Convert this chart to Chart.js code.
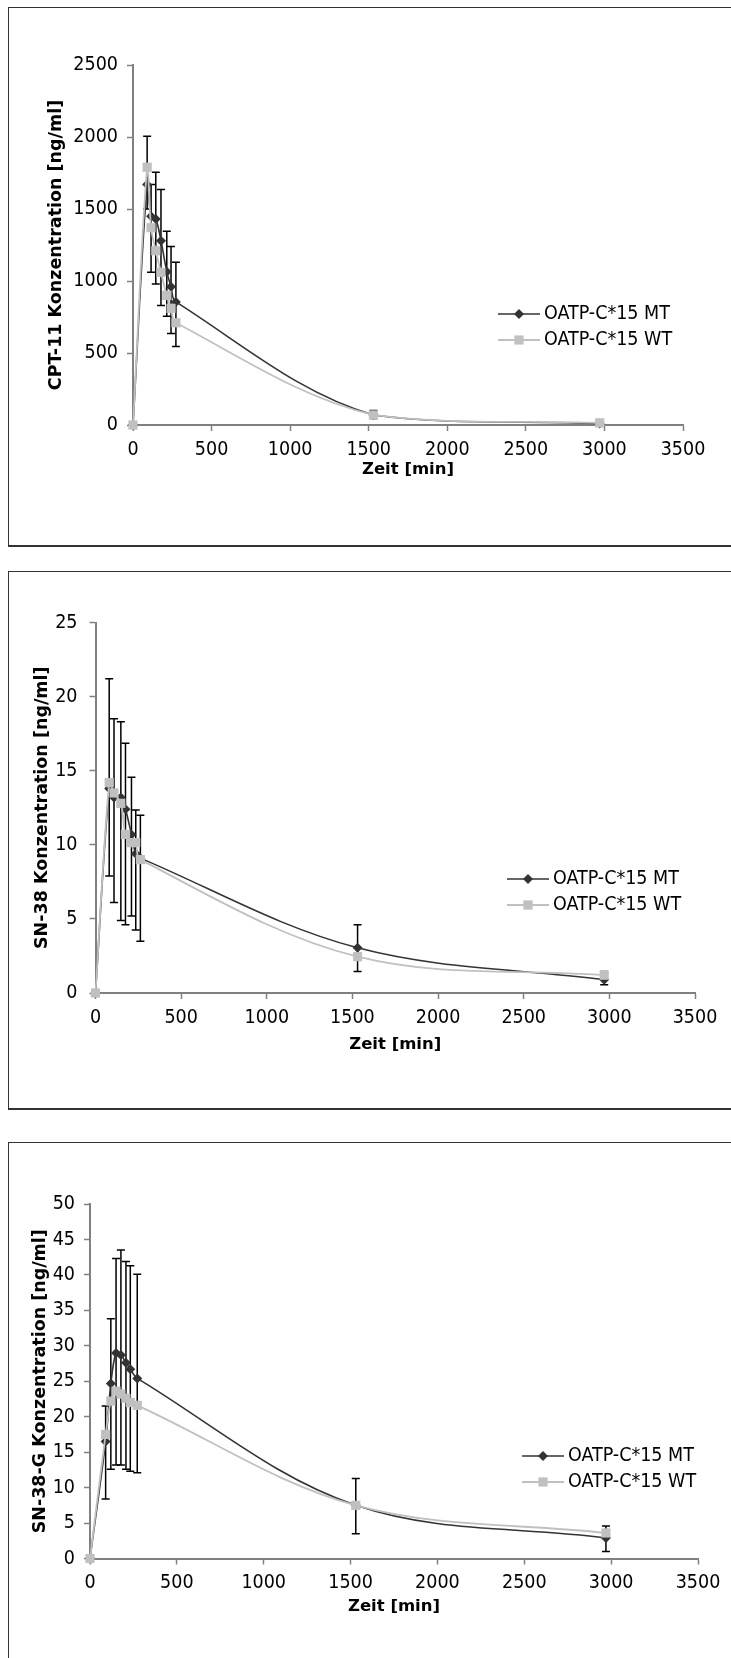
<!DOCTYPE html>
<html>
<head>
<meta charset="utf-8">
<script src="https://cdn.jsdelivr.net/npm/chart.js@4.4.1/dist/chart.umd.min.js"></script>
<style>
  html, body { margin: 0; padding: 0; background: #fff; overflow: hidden; }
  body { width: 731px; height: 1658px; position: relative; }
  .panel { position: absolute; left: 8px; width: 780px; border: 1px solid #333; border-bottom-width: 2px; box-sizing: border-box; }
  canvas { position: absolute; left: 0; }
</style>
</head>
<body>
<div class="panel" style="top:7px;height:540px"></div>
<div class="panel" style="top:571px;height:539px"></div>
<div class="panel" style="top:1142px;height:560px"></div>
<canvas id="cpt" width="731" height="538" style="top:7px"></canvas>
<canvas id="sn38" width="731" height="537" style="top:571px"></canvas>
<canvas id="sn38g" width="731" height="516" style="top:1142px"></canvas>
<script>
// Werte
const serienNamen = ["OATP-C*15 MT", "OATP-C*15 WT"]
const xTitel = "Zeit [min]"
const xTicks = [0, 500, 1000, 1500, 2000, 2500, 3000, 3500]

// CPT-11
const zeitCPT = [0, 90, 115, 145, 178, 215, 242, 273, 1530, 2970]
const cptMT = [0, 1670, 1450, 1430, 1280, 1065, 960, 855, 70, 10]
const cptWT = [0, 1790, 1370, 1210, 1060, 900, 810, 710, 70, 15]
const cptOben = [null, 2005, 1670, 1755, 1635, 1345, 1240, 1130, 100, 22]
const cptUnten = [null, 1500, 1060, 980, 830, 755, 635, 545, 45, 4]
const cptTicks = [0, 500, 1000, 1500, 2000, 2500]

// SN-38
const zeitSN38 = [0, 80, 108, 148, 175, 210, 235, 262, 1530, 2970]
const sn38MT = [0, 13.8, 13.2, 13.2, 12.4, 10.7, 9.4, 9.1, 3.05, 0.9]
const sn38WT = [0, 14.2, 13.5, 12.8, 10.7, 10.15, 10.15, 9.0, 2.45, 1.2]
const sn38Oben = [null, 21.2, 18.5, 18.3, 16.85, 14.55, 12.35, 12.0, 4.6, 1.45]
const sn38Unten = [null, 7.9, 6.1, 4.9, 4.6, 5.2, 4.25, 3.5, 1.45, 0.55]
const sn38Ticks = [0, 5, 10, 15, 20, 25]

// SN-38-G
const zeitSN38G = [0, 90, 120, 150, 178, 207, 232, 272, 1530, 2970]
const sn38gMT = [0, 16.5, 24.7, 29.0, 28.7, 27.6, 26.7, 25.4, 7.5, 2.9]
const sn38gWT = [0, 17.5, 22.2, 23.6, 23.2, 22.6, 22.0, 21.6, 7.5, 3.6]
const sn38gOben = [null, 21.5, 33.8, 42.3, 43.5, 41.9, 41.3, 40.1, 11.3, 4.6]
const sn38gUnten = [null, 8.4, 12.6, 13.2, 13.2, 12.6, 12.3, 12.1, 3.5, 1.0]
const sn38gTicks = [0, 5, 10, 15, 20, 25, 30, 35, 40, 45, 50]

const tickFont = { family: "'DejaVu Sans Condensed', 'Liberation Sans', sans-serif", size: 19.5 }
const xTitelFont = { family: "'DejaVu Sans', Verdana, sans-serif", size: 16.5, weight: "bold" }
const yTitelFont = { family: "'DejaVu Sans', Verdana, sans-serif", size: 17.5, weight: "bold" }
const achsenFarbe = "#808080"

// Fehlerbalken der MT-Serie, hinter den Markern
const fehlerBalken = {
    id: "fehlerBalken",
    beforeDatasetsDraw(chart) {
        const { ctx, scales: { x, y } } = chart
        const ds = chart.data.datasets[0]
        ctx.save()
        ctx.strokeStyle = "#000"
        ctx.lineWidth = 1.5
        ds.fehlerOben.forEach((hi, i) => {
            if (hi == null) return
            const px = x.getPixelForValue(ds.data[i].x)
            const y1 = y.getPixelForValue(hi)
            const y2 = y.getPixelForValue(ds.fehlerUnten[i])
            ctx.beginPath()
            ctx.moveTo(px, y1); ctx.lineTo(px, y2)
            ctx.moveTo(px - 4, y1); ctx.lineTo(px + 4, y1)
            ctx.moveTo(px - 4, y2); ctx.lineTo(px + 4, y2)
            ctx.stroke()
        })
        ctx.restore()
    }
}

function marker(ctx, style, r, x, y) {
    ctx.beginPath()
    if (style === "rectRot") {
        ctx.moveTo(x - r, y); ctx.lineTo(x, y - r); ctx.lineTo(x + r, y); ctx.lineTo(x, y + r)
    } else {
        const s = r * Math.SQRT1_2
        ctx.rect(x - s, y - s, 2 * s, 2 * s)
    }
    ctx.closePath()
    ctx.fill()
}

function legende(pos) {
    return {
        id: "legende",
        afterDraw(chart) {
            const ctx = chart.ctx
            chart.data.datasets.forEach((ds, i) => {
                const y = pos.y + i * 26
                ctx.save()
                ctx.strokeStyle = ds.borderColor
                ctx.lineWidth = ds.borderWidth
                ctx.beginPath()
                ctx.moveTo(pos.x, y); ctx.lineTo(pos.x + 42, y)
                ctx.stroke()
                ctx.fillStyle = ds.pointBackgroundColor
                marker(ctx, ds.pointStyle, ds.pointRadius, pos.x + 21, y)
                ctx.fillStyle = "#000"
                ctx.font = `${tickFont.size}px ${tickFont.family}`
                ctx.textBaseline = "middle"
                ctx.fillText(ds.label, pos.x + 46, y)
                ctx.restore()
            })
        }
    }
}

function kurve(id, p) {
    const punkte = (zeit, werte) => werte.map((v, i) => ({ x: zeit[i], y: v }))
    new Chart(document.getElementById(id), {
        type: "line",
        data: {
            datasets: [{
                label: serienNamen[0],
                data: punkte(p.zeit, p.mt),
                fehlerOben: p.oben,
                fehlerUnten: p.unten,
                borderColor: "#333333",
                borderWidth: 1.6,
                pointStyle: "rectRot",
                pointRadius: 5,
                pointBackgroundColor: "#333333",
                pointBorderWidth: 0,
                tension: 0.35,
                clip: false,
                order: 1
            }, {
                label: serienNamen[1],
                data: punkte(p.zeit, p.wt),
                borderColor: "#c0c0c0",
                borderWidth: 1.8,
                pointStyle: "rect",
                pointRadius: 6.5,
                pointBackgroundColor: "#c0c0c0",
                pointBorderWidth: 0,
                tension: 0.35,
                clip: false,
                order: 0
            }]
        },
        options: {
            responsive: false,
            animation: false,
            devicePixelRatio: 1,
            layout: { padding: { top: p.oben0, right: p.rechts, left: 0, bottom: 0 } },
            plugins: { legend: { display: false }, tooltip: { enabled: false } },
            scales: {
                x: {
                    type: "linear", min: 0, max: 3500,
                    afterBuildTicks: s => { s.ticks = xTicks.map(v => ({ value: v })) },
                    afterFit: s => { s.height = p.xHoehe },
                    ticks: { font: tickFont, color: "#000", padding: 7, maxRotation: 0, callback: v => String(v) },
                    grid: { drawOnChartArea: false, tickLength: 6, tickColor: achsenFarbe, tickWidth: 1.5 },
                    border: { color: achsenFarbe, width: 2 },
                    title: { display: true, text: xTitel, font: xTitelFont, color: "#000", padding: { top: 0, bottom: p.xTitelAbstand } }
                },
                y: {
                    type: "linear", min: 0, max: p.yTicks[p.yTicks.length - 1],
                    afterBuildTicks: s => { s.ticks = p.yTicks.map(v => ({ value: v })) },
                    afterFit: s => { s.width = p.yBreite },
                    ticks: { font: tickFont, color: "#000", padding: p.yPad, callback: v => String(v) },
                    grid: { drawOnChartArea: false, tickLength: 6, tickColor: achsenFarbe, tickWidth: 1.5 },
                    border: { color: achsenFarbe, width: 2 },
                    title: { display: true, text: p.yTitel, font: yTitelFont, color: "#000", padding: { top: p.yTitelAbstand, bottom: 0 } }
                }
            }
        },
        plugins: [fehlerBalken, legende(p.legende)]
    })
}

kurve("cpt", {
    zeit: zeitCPT, mt: cptMT, wt: cptWT, oben: cptOben, unten: cptUnten, yTicks: cptTicks,
    yTitel: "CPT-11 Konzentration [ng/ml]",
    oben0: 58, rechts: 48, yBreite: 133, xHoehe: 120, yPad: 9, yTitelAbstand: 45.5, xTitelAbstand: 65.6,
    legende: { x: 498, y: 307 }
})
kurve("sn38", {
    zeit: zeitSN38, mt: sn38MT, wt: sn38WT, oben: sn38Oben, unten: sn38Unten, yTicks: sn38Ticks,
    yTitel: "SN-38 Konzentration [ng/ml]",
    oben0: 51.5, rechts: 36, yBreite: 95.5, xHoehe: 115, yPad: 12, yTitelAbstand: 31.5, xTitelAbstand: 53.6,
    legende: { x: 507, y: 308 }
})
kurve("sn38g", {
    zeit: zeitSN38G, mt: sn38gMT, wt: sn38gWT, oben: sn38gOben, unten: sn38gUnten, yTicks: sn38gTicks,
    yTitel: "SN-38-G Konzentration [ng/ml]",
    oben0: 62, rechts: 33, yBreite: 90, xHoehe: 99.5, yPad: 9, yTitelAbstand: 29.5, xTitelAbstand: 41.1,
    legende: { x: 522, y: 314 }
})
</script>
</body>
</html>
